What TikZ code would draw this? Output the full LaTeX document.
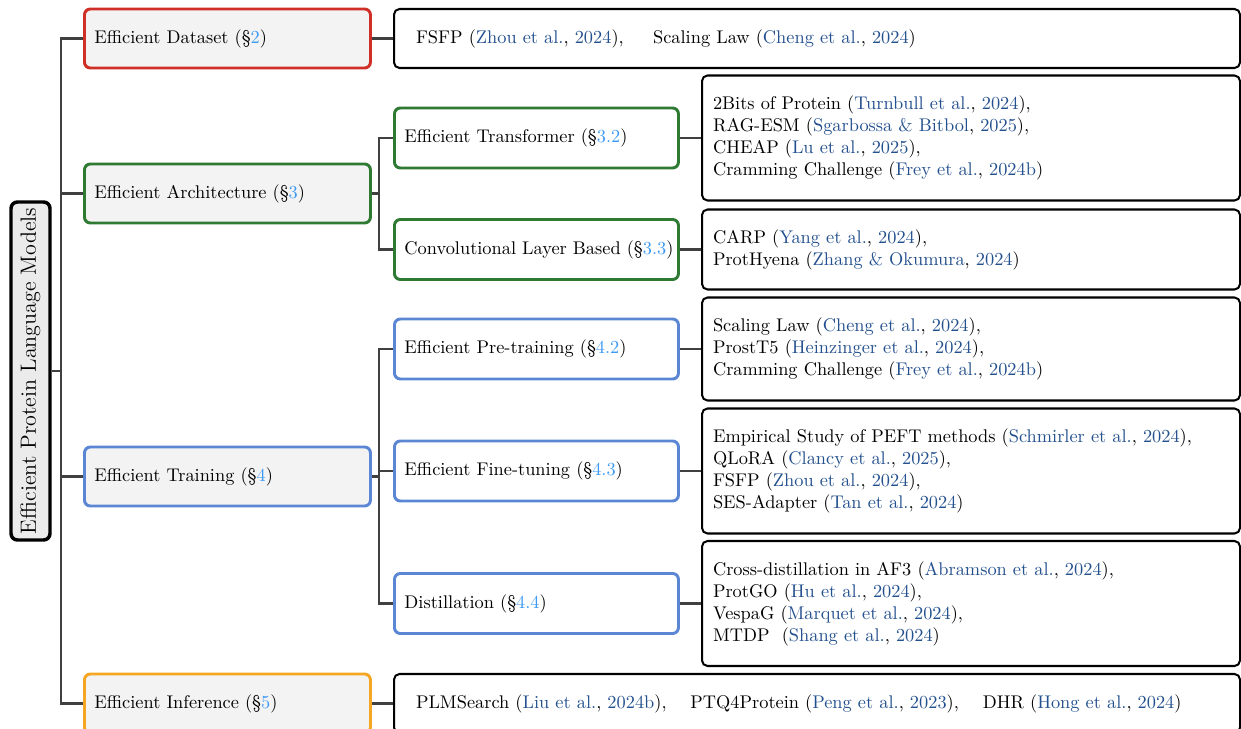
\documentclass[tikz,border=0pt]{standalone}
\usepackage{xcolor}

\definecolor{dsred}{HTML}{CF2F27}
\definecolor{archgreen}{HTML}{2E7A32}
\definecolor{trainblue}{HTML}{5B86D4}
\definecolor{inforange}{HTML}{F5A623}
\definecolor{citeblue}{HTML}{23508E}
\definecolor{secblue}{HTML}{3C9AF5}
\definecolor{linegray}{HTML}{404040}
\definecolor{boxgray}{HTML}{F3F3F3}
\definecolor{rootgray}{HTML}{EBEBEB}

% one drawing unit
\newcommand\pxu{0.545pt}
% citation: author and year coloured, punctuation black
\newcommand\ct[2]{(\textcolor{citeblue}{#1}, \textcolor{citeblue}{#2})}
% section reference
\newcommand\secref[1]{(\S\textcolor{secblue}{#1})}

\begin{document}
\begin{tikzpicture}[x=0.545pt, y=-0.545pt,
  conn/.style={draw=linegray, line width=1.1pt},
  rootbox/.style={draw=black, line width=1.9pt, fill=rootgray, rounded corners=3.5pt,
    minimum width=338*\pxu, minimum height=39*\pxu, inner sep=0pt, font=\large},
  topbox/.style={draw=#1, line width=1.6pt, fill=boxgray, rounded corners=3.2pt,
    anchor=west, minimum height=59*\pxu, inner xsep=10*\pxu, inner ysep=0pt,
    text width=266*\pxu, align=left},
  subbox/.style={draw=#1, line width=1.6pt, fill=white, rounded corners=3.2pt,
    anchor=west, minimum height=60*\pxu, inner xsep=10*\pxu, inner ysep=0pt,
    text width=264*\pxu, align=left},
  leafbox/.style={draw=black, line width=1.1pt, fill=white, rounded corners=3pt,
    anchor=west, minimum height=#1*\pxu, inner xsep=11*\pxu, inner ysep=0pt,
    text width=516*\pxu, align=left},
  wideleaf/.style={draw=black, line width=1.1pt, fill=white, rounded corners=3pt,
    anchor=west, minimum height=59*\pxu, inner xsep=22*\pxu, inner ysep=0pt,
    text width=802*\pxu, align=left},
]
\clip (0,0) rectangle (1241,729);

% vertical guide lines of the tree
\coordinate (tk) at (61,0);
\coordinate (ak) at (379,0);

% root
\node[rootbox, rotate=90] (root) at (30.5,371) {Efficient Protein Language Models};

% first level
\node[topbox=dsred]      (ds)   at (83,38.5)  {\mbox{Efficient Dataset \secref{2}}};
\node[topbox=archgreen]  (arch) at (83,193.5) {\mbox{Efficient Architecture \secref{3}}};
\node[topbox=trainblue]  (trn)  at (83,476.5) {\mbox{Efficient Training \secref{4}}};
\node[topbox=inforange]  (inf)  at (83,703.5) {\mbox{Efficient Inference \secref{5}}};

% second level
\node[subbox=archgreen] (tr)   at (393,138)   {\mbox{Efficient Transformer \secref{3.2}}};
\node[subbox=archgreen] (cv)   at (393,249.5) {\mbox{Convolutional Layer Based \secref{3.3}}};
\node[subbox=trainblue] (pre)  at (393,349)   {\mbox{Efficient Pre-training \secref{4.2}}};
\node[subbox=trainblue] (fine) at (393,471)   {\mbox{Efficient Fine-tuning \secref{4.3}}};
\node[subbox=trainblue] (dist) at (393,603.5) {\mbox{Distillation \secref{4.4}}};

% leaves
\node[wideleaf] (dsl) at (393,38.5)
  {FSFP \ct{Zhou et al.}{2024},\hspace{16pt}Scaling Law \ct{Cheng et al.}{2024}};
\node[leafbox=125] (trl) at (701,138)
  {2Bits of Protein \ct{Turnbull et al.}{2024},\\
   RAG-ESM \ct{Sgarbossa \& Bitbol}{2025},\\
   CHEAP \ct{Lu et al.}{2025},\\
   Cramming Challenge \ct{Frey et al.}{2024b}};
\node[leafbox=80] (cvl) at (701,249.5)
  {CARP \ct{Yang et al.}{2024},\\
   ProtHyena \ct{Zhang \& Okumura}{2024}};
\node[leafbox=103] (prel) at (701,349)
  {Scaling Law \ct{Cheng et al.}{2024},\\
   ProstT5 \ct{Heinzinger et al.}{2024},\\
   Cramming Challenge \ct{Frey et al.}{2024b}};
\node[leafbox=125] (finel) at (701,471)
  {Empirical Study of PEFT methods \ct{Schmirler et al.}{2024},\\
   QLoRA \ct{Clancy et al.}{2025},\\
   FSFP \ct{Zhou et al.}{2024},\\
   SES-Adapter \ct{Tan et al.}{2024}};
\node[leafbox=125] (distl) at (701,603.5)
  {Cross-distillation in AF3 \ct{Abramson et al.}{2024},\\
   ProtGO \ct{Hu et al.}{2024},\\
   VespaG \ct{Marquet et al.}{2024},\\
   MTDP\ \ \ct{Shang et al.}{2024}};
\node[wideleaf] (infl) at (393,703.5)
  {PLMSearch \ct{Liu et al.}{2024b},\hspace{13pt}PTQ4Protein \ct{Peng et al.}{2023},\hspace{13pt}DHR \ct{Hong et al.}{2024}};

% root to first level
\foreach \n in {ds,arch,trn,inf}
  \draw[conn] (root.south) -- (root.south -| tk) |- (\n.west);

% first to second level
\foreach \n in {tr,cv}
  \draw[conn] (arch.east) -- (arch.east -| ak) |- (\n.west);
\foreach \n in {pre,fine,dist}
  \draw[conn] (trn.east) -- (trn.east -| ak) |- (\n.west);

% to the leaves
\draw[conn] (ds.east) -- (dsl.west);
\draw[conn] (inf.east) -- (infl.west);
\draw[conn] (tr.east) -- (trl.west);
\draw[conn] (cv.east) -- (cvl.west);
\draw[conn] (pre.east) -- (prel.west);
\draw[conn] (fine.east) -- (finel.west);
\draw[conn] (dist.east) -- (distl.west);
\end{tikzpicture}
\end{document}
